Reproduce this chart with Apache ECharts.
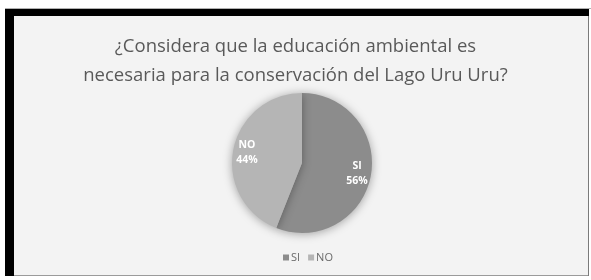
<!DOCTYPE html>
<html>
<head>
<meta charset="utf-8">
<script src="https://cdn.jsdelivr.net/npm/echarts@6/dist/echarts.min.js"></script>
<style>
html,body{margin:0;padding:0;background:#ffffff;}
#chart{width:591px;height:280px;}
</style>
</head>
<body>
<div id="chart"></div>
<script>
const titleText = '¿Considera que la educación ambiental es\nnecesaria para la conservación del Lago Uru Uru?';
const categories = ['SI', 'NO'];
const values = [56, 44];
const colors = ['#8c8c8c', '#b5b5b5'];

const chart = echarts.init(document.getElementById('chart'), null, {renderer: 'canvas'});
const data = categories.map((c, i) => ({name: c, value: values[i], itemStyle: {color: colors[i]}}));
const center = [302, 163];

chart.setOption({
  animation: false,
  backgroundColor: '#ffffff',
  graphic: [
    {type: 'rect', shape: {x: 5, y: 8, width: 586, height: 1}, style: {fill: '#b0b0b0'}, z: 0},
    {type: 'rect', shape: {x: 5, y: 9, width: 584, height: 267}, style: {fill: '#000000'}, z: 0},
    {type: 'rect', shape: {x: 14, y: 16, width: 574, height: 259}, style: {fill: '#f3f3f3'}, z: 1},
    {type: 'rect', shape: {x: 14, y: 275, width: 575, height: 1}, style: {fill: '#9a9a9a'}, z: 1},
    {type: 'rect', shape: {x: 588, y: 16, width: 1, height: 260}, style: {fill: '#7a7a7a'}, z: 1}
  ],
  title: {
    text: titleText,
    left: 'center',
    top: 27,
    textStyle: {
      fontFamily: 'Open Sans',
      fontSize: 18.5,
      fontWeight: 'normal',
      color: '#595959',
      lineHeight: 29
    }
  },
  legend: {
    data: categories,
    bottom: 12,
    left: 278,
    icon: 'rect',
    itemWidth: 6,
    itemHeight: 6,
    itemGap: 8,
    textStyle: {fontFamily: 'Open Sans', fontSize: 11, color: '#6a6a6a', padding: [0,0,0,-3]}
  },
  series: [
    {
      type: 'pie',
      radius: [0, 70],
      center: center,
      startAngle: 90,
      clockwise: true,
      label: {show: false},
      labelLine: {show: false},
      itemStyle: {shadowBlur: 10, shadowColor: 'rgba(0,0,0,0.35)', shadowOffsetX: 0, shadowOffsetY: 1},
      emphasis: {disabled: true},
      data: data
    },
    {
      type: 'pie',
      radius: [36, 70],
      center: center,
      startAngle: 90,
      clockwise: true,
      silent: true,
      legendHoverLink: false,
      itemStyle: {color: 'transparent'},
      label: {
        show: true,
        position: 'inside',
        formatter: '{b}\n{d}%',
        color: '#ffffff',
        fontFamily: 'Open Sans',
        fontWeight: 'bold',
        fontSize: 10.5,
        lineHeight: 15
      },
      labelLine: {show: false},
      emphasis: {disabled: true},
      data: categories.map((c, i) => ({name: c, value: values[i], itemStyle: {color: 'transparent'}}))
    }
  ]
});
</script>
</body>
</html>
